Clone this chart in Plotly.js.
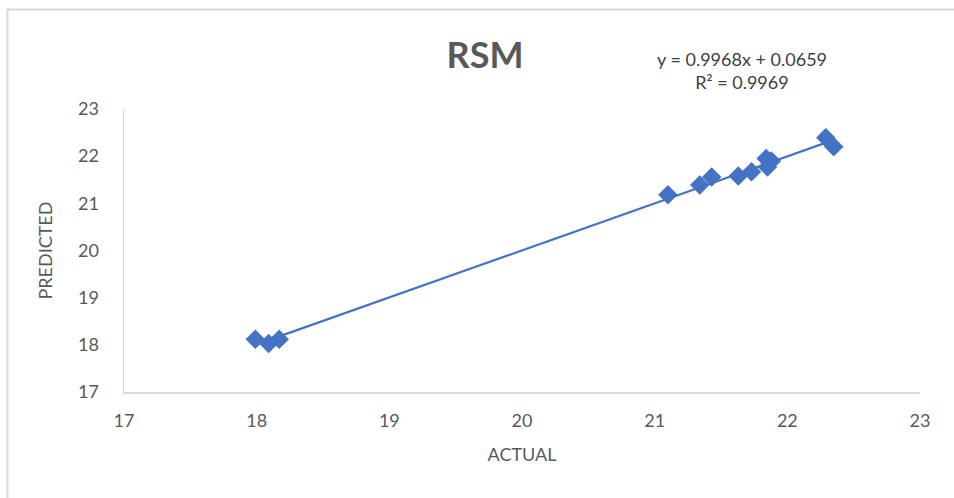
<!DOCTYPE html>
<html>
<head>
<meta charset="utf-8">
<script src="https://cdn.plot.ly/plotly-3.0.1.min.js"></script>
<style>
html,body{margin:0;padding:0;background:#fff;}
#chart{width:954px;height:498px;}
</style>
</head>
<body>
<div id="chart"></div>
<script>
// Data
const actual    = [17.99, 18.09, 18.17, 21.10, 21.34, 21.43, 21.63, 21.73, 21.84, 21.85, 21.88, 22.29, 22.35];
const predicted = [18.12, 18.03, 18.12, 21.18, 21.39, 21.56, 21.58, 21.67, 21.95, 21.77, 21.90, 22.39, 22.20];
const slope = 0.9968;
const intercept = 0.0659;
const r2 = 0.9969;
const xTicks = [17, 18, 19, 20, 21, 22, 23];
const yTicks = [17, 18, 19, 20, 21, 22, 23];

const xMin = Math.min(...actual), xMax = Math.max(...actual);
const trendX = [xMin, xMax];
const trendY = trendX.map(v => slope * v + intercept);

const blue = '#4472C4';
const grey = '#595959';
const font = 'Lato, Calibri, Carlito, sans-serif';

const traces = [
  {
    x: trendX, y: trendY, mode: 'lines', type: 'scatter',
    line: {color: blue, width: 2.25}, hoverinfo: 'skip', showlegend: false
  },
  {
    x: actual, y: predicted, mode: 'markers', type: 'scatter',
    marker: {symbol: 'diamond', size: 15, color: blue, line: {width: 0}},
    showlegend: false
  }
];

const layout = {
  width: 954, height: 498,
  margin: {l: 124, r: 34, t: 109, b: 106},
  paper_bgcolor: '#ffffff', plot_bgcolor: '#ffffff',
  font: {family: font, color: grey, size: 18},
  title: {
    text: '<b>RSM</b>', x: 485/954, xanchor: 'center', y: 1 - 55/498, yanchor: 'middle',
    font: {family: font, size: 36, color: grey}
  },
  xaxis: {
    range: [17, 23], tickvals: xTicks, ticktext: xTicks.map(String),
    showgrid: false, zeroline: false, showline: true, linecolor: '#d9d9d9', linewidth: 1.5,
    ticks: 'outside', ticklen: 12, tickcolor: 'rgba(0,0,0,0)',
    tickfont: {family: font, size: 18, color: grey},
    title: {text: 'ACTUAL', font: {family: font, size: 18, color: grey}, standoff: 18}
  },
  yaxis: {
    range: [17, 23], tickvals: yTicks, ticktext: yTicks.map(String),
    showgrid: false, zeroline: false, showline: true, linecolor: '#d9d9d9', linewidth: 1.5,
    ticks: 'outside', ticklen: 20, tickcolor: 'rgba(0,0,0,0)',
    tickfont: {family: font, size: 18, color: grey},
    title: {text: 'PREDICTED', font: {family: font, size: 18, color: grey}, standoff: 20}
  },
  annotations: [
    {
      xref: 'paper', yref: 'paper', x: (742-124)/796, y: (392-71)/283,
      xanchor: 'center', yanchor: 'middle', showarrow: false, align: 'center',
      text: 'y = ' + slope.toFixed(4) + 'x + ' + intercept.toFixed(4) + '<br>R² = ' + r2.toFixed(4),
      font: {family: font, size: 18, color: '#404040'}
    }
  ],
  shapes: [
    {
      type: 'rect', xref: 'paper', yref: 'paper',
      x0: (7.5-124)/796, x1: 1.2, y0: -1, y1: (392-9.5)/283,
      line: {color: '#d9d9d9', width: 2}, fillcolor: 'rgba(0,0,0,0)', layer: 'below'
    }
  ]
};

Plotly.newPlot('chart', traces, layout, {displayModeBar: false, staticPlot: true});
</script>
</body>
</html>
